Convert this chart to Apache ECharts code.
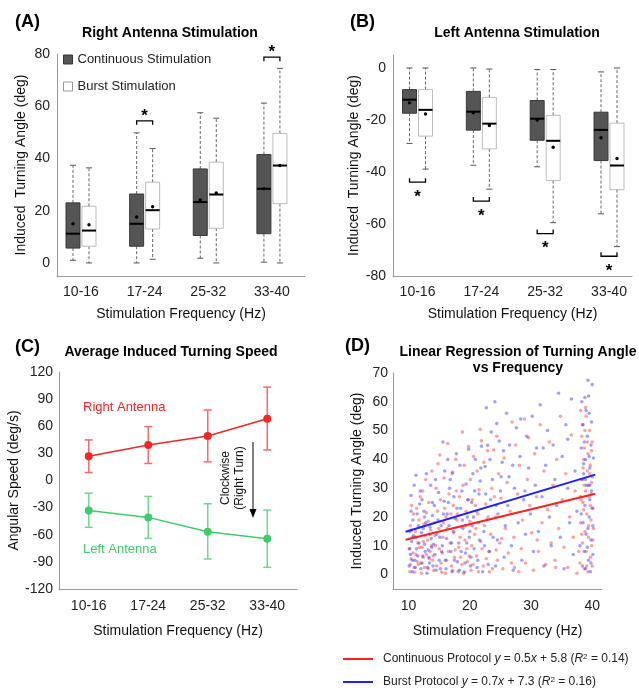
<!DOCTYPE html>
<html>
<head>
<meta charset="utf-8">
<script src="https://cdn.jsdelivr.net/npm/echarts@6/dist/echarts.min.js"></script>
<style>
html, body { margin: 0; padding: 0; background: #fff; }
#chart { width: 639px; height: 697px; }
</style>
</head>
<body>
<div id="chart"></div>
<script>
var FREQ = ['10-16', '17-24', '25-32', '33-40'];

// box stats per frequency group: [min, q1, median, q3, max, mean]
var rightCont  = [[1, 5.7, 11.2, 23, 37.4, 15], [0, 6.4, 15, 26.4, 49.8, 17.6], [1.8, 10.5, 23.3, 36, 57.5, 24.1], [0.3, 11.2, 28.4, 41.5, 61.2, 28.4]];
var rightBurst = [[0, 6.4, 12.4, 21.7, 36.4, 14.6], [1.4, 13, 20.2, 30.9, 43.8, 21.5], [0, 13.3, 26.2, 38.6, 55.4, 26.8], [0, 22.7, 37.3, 49.6, 74.5, 37.3]];
var leftCont   = [[-29, -17.4, -12.2, -8.3, 0, -13.4], [-37.4, -23.9, -16.8, -9, 0, -17.2], [-38, -27.8, -19.5, -12.5, -0.6, -20], [-56.1, -35.6, -23.8, -17, -1.5, -26.8]];
var leftBurst  = [[-38.9, -26.2, -16.1, -8.3, 0, -17.7], [-46.6, -31.1, -21.4, -11.3, -0.4, -22.1], [-59.5, -43.3, -28, -18.2, -0.6, -30.5], [-68.7, -46.8, -37.5, -21.2, 0, -34.8]];
// significance brackets: [group, level]
var rightSig = [[2, 54.4], [4, 78.8]];
var leftSig  = [[1, -43.9], [2, -51.2], [3, -63.7], [4, -72.4]];

// panel C: mean angular speed and error range
var speedRight    = [26.8, 39.3, 49.3, 68.4];
var speedRightErr = [[8.8, 44.9], [18.8, 59.6], [20.6, 78], [33.8, 103.3]];
var speedLeft     = [-33.1, -40.8, -56.6, -64.3];
var speedLeftErr  = [[-51.8, -14], [-64, -17.6], [-86.8, -25.7], [-96, -32.7]];

// panel D: individual trials
var scatterCont = [
  [10.2,1],[10.4,5.5],[10.1,9],[10.6,13],[10.3,17],[10.8,21],[10.5,24],[10.9,2.5],[11.2,7],[11.5,11],[11.1,15],[11.7,19],[11.3,23],[11.9,27],[11.6,3.5],
  [12.1,0.5],[12.4,6],[12.2,9.5],[12.7,13.5],[12.5,17.5],[12.9,21.5],[12.3,29],[12.8,33],[13.2,2],[13.5,8],[13.1,12],[13.6,15.5],[13.3,25],[13.8,36],[13.9,5],
  [14.1,1.5],[14.4,10],[14.2,18],[14.7,22],[14.5,30],[14.8,38.5],[15.1,41.5],[15.3,4],[15.6,13],[15.2,26],[15.8,33.5],[15.5,7.5],[16.0,0.5],[16.3,16],[16.1,20],
  [16.6,28],[16.4,45.5],[16.8,11],[17.0,3],[17.3,24],[17.1,35],[17.6,8.5],[17.4,14.5],[17.9,19],[17.7,40],
  [18.1,1],[18.3,27],[18.5,6],[18.8,49.5],[18.6,16.5],[18.9,31],[19.2,12],[19.4,22],[19.1,38],[19.6,4.5],[19.8,44.5],[19.5,9],[20.0,18.5],[20.2,1.5],[20.4,26],
  [20.1,33],[20.6,41],[20.8,14],[21.1,6.5],[21.3,21],[21.7,50.5],[21.5,29.5],[21.9,46.5],[21.2,36],[21.8,11.5],
  [22.2,3],[22.4,17],[22.6,24.5],[22.9,43],[22.3,39],[23.1,8],[23.4,14],[23.6,30],[23.9,43.3],[23.2,1],[24.2,20],[24.5,5],[24.7,35],[24.4,48],[24.9,11],
  [25.1,26.5],[25.4,2],[25.6,40.5],[25.8,16],
  [26.1,32],[26.3,7.5],[26.6,22],[26.9,53],[27.2,13],[27.5,45],[27.3,2.5],[27.8,28],[28.1,38],[28.4,9],[28.6,19],[28.9,54],[29.1,4],[29.4,33],[29.6,47.5],
  [29.8,24],[30.1,14.5],[30.4,1.5],
  [30.6,42],[30.9,27],[31.2,8],[31.5,52],[31.8,18],[32.1,36],[32.4,3.5],[32.7,22.5],[33.0,46],[33.3,11],[33.6,31],[33.9,5],[34.2,40],[34.5,16],[34.8,55],
  [35.1,26],[35.4,9.5],[35.7,35],[36.0,2.5],[36.3,20],[36.6,48.5],[36.9,13],[37.2,29],[37.5,0.5],
  [38.0,4],[38.1,18],[38.2,33],[38.3,48],[38.1,57],[38.4,11],[38.5,25],[38.6,40],[38.4,52],[38.7,2],[38.8,15],[38.9,29],[38.7,44],[39.0,8],[39.1,21],
  [39.2,36],[39.0,55],[39.3,1],[39.4,13],[39.5,27],[39.3,42],[39.6,50],[39.7,6],[39.8,19],[39.9,32],[39.7,38],[40.0,3],[40.1,23],[40.0,46],[39.9,10],
  [38.6,22.5],[39.4,31],[38.9,58],[39.8,28],[40.2,16],
  [10.3,3.5],[10.7,7.5],[10.5,15.5],[11.0,0.8],[11.4,4.5],[11.8,9.5],[11.3,13],[12.0,4],[12.6,2.5],[12.4,11.5],[12.9,7],[13.4,5.5],[13.7,10],[13.2,18.5],
  [14.0,6.5],[14.3,13.5],[14.6,3],[14.9,16],[15.4,0.8],[15.0,9],[15.7,18],[15.9,23],[16.2,5],[16.5,8],[16.9,21],[17.2,1.5],[17.5,6],[17.8,29],[18.2,9.5],
  [18.4,13],[18.7,3.5],[18.0,21],[19.0,0.5],[19.3,17],[19.7,26],[19.9,6.5],[20.3,10],[20.5,3.5],[20.9,24],[21.4,1],[21.0,16],[22.0,9],[22.7,5.5],[23.0,20],
  [23.7,2],[24.0,27],[24.3,8.5],[25.2,12.5],[26.8,4],[28.0,1],[31.0,12],[34.0,2.5],[37.8,8],[38.2,26],[38.5,37],[38.8,50],[39.1,3],[39.4,17],[39.6,35],
  [39.9,43],[40.1,12],[38.3,14],[39.2,46],[38.7,31],[39.7,24]
];
var scatterBurst = [
  [10.1,3],[10.3,7],[10.5,11.5],[10.2,15],[10.7,19],[10.4,27.5],[10.9,31],[10.6,1],[11.0,5],[11.3,9],[11.1,13],[11.6,17],[11.4,21],[11.8,24.5],[11.2,34.5],
  [12.0,2],[12.3,6.5],[12.6,10.5],[12.1,14.5],[12.8,18],[12.5,22],[12.2,26],[12.9,35],[13.0,0.5],[13.4,4],[13.2,8.5],[13.7,12.5],[13.5,16.5],[13.9,20.5],[13.6,31],
  [14.0,3],[14.3,7],[14.6,14],[14.2,24],[14.9,28.5],[14.4,33],[15.2,2],[15.5,10],[15.3,17],[15.7,21],[15.9,36],[15.6,46],[16.0,5],[16.2,12.5],[16.5,25],
  [16.7,30],[16.4,40],[16.9,8],[17.1,1],[17.3,15],[17.6,19.5],[17.4,27],[17.8,42],[17.2,35.5],
  [18.0,4.5],[18.2,11],[18.5,23],[18.7,29],[18.4,38],[18.9,16],[19.1,1],[19.3,7.5],[19.6,20],[19.4,31.5],[19.8,43.5],[19.9,13],[20.1,3],[20.3,25],[20.5,35],
  [20.7,9],[20.9,40],[20.4,17],[21.1,22],[21.3,5],[21.5,28],[21.7,32.5],[21.9,44.6],[21.6,12],
  [22.1,1],[22.3,15],[22.7,57.9],[22.5,37.5],[22.8,19],[22.9,44.9],[23.2,8],[23.5,49.5],[23.4,26],[23.7,33],[24.1,60],[24.4,52.5],[24.2,3],[24.6,21],[24.8,46.4],
  [24.5,12],[25.0,29],[25.3,39],[25.6,6],[25.8,17],
  [26.0,56],[26.2,24],[26.5,45],[26.8,10],[26.4,34],[27.1,1.5],[27.3,30],[27.6,51],[27.9,18],[28.2,41],[28.5,5],[28.3,54],[28.8,26],[29.1,14],[29.3,48],
  [29.6,37],[29.9,21],[30.2,55],[30.4,8],
  [30.7,31],[30.9,44],[31.2,15],[31.5,59],[31.8,27],[32.1,3],[32.4,38],[32.7,50],[33.0,20],[33.3,10],[33.6,45],[33.9,33],[34.2,24],[34.5,63],[34.8,13],
  [35.1,41],[35.4,2],[35.7,52],[36.0,30],[36.3,18],[36.6,61],[36.9,7],[37.2,36],[37.5,22],
  [38.0,10],[38.1,27],[38.2,44],[38.3,60],[38.4,3],[38.5,18],[38.6,35],[38.5,52],[38.7,8],[38.8,24],[38.9,40],[38.8,61.5],[39.0,14],[39.1,31],[39.2,48],
  [39.3,67.5],[39.4,5],[39.5,20],[39.6,37],[39.5,56],[39.7,1],[39.8,12],[39.9,29],[39.8,45],[40.0,66],[40.1,7],[40.0,34],[39.9,53],[39.6,26],[38.6,38.5],
  [39.2,9.5],[40.2,40.5],[38.9,33],[39.4,62],[40.1,17],
  [10.2,9],[10.6,5],[10.8,13.5],[10.4,22],[11.1,2.5],[11.5,6.5],[11.7,11],[11.9,29],[12.2,4],[12.7,8],[12.4,16],[12.6,20],[13.1,2.5],[13.3,6],[13.8,9.5],
  [13.4,14],[13.9,25],[14.1,10.5],[14.5,1.5],[14.8,19],[15.0,5],[15.4,8],[15.1,13],[15.8,25.5],[16.1,2],[16.6,17],[16.3,21],[16.8,33],[17.0,11],[17.5,5],
  [17.9,23],[18.3,1.5],[18.6,8],[18.8,19],[19.2,4],[19.5,11],[19.7,26],[20.0,15],[20.2,6],[20.6,20],[20.8,29],[21.2,2.5],[21.4,18],[21.8,37],[22.4,10],
  [22.6,28],[23.0,3.5],[23.3,40],[23.8,13],[24.3,24],[25.1,34],[25.5,43],[27.0,38],[29.0,29],[32.0,44],[36.0,47],[38.2,21],[38.4,33],[38.7,46],[39.0,57],
  [39.3,16],[39.5,41],[39.8,4],[40.0,23],[38.9,2],[39.6,31]
];
// fitted lines, endpoints
var fitCont  = [[9.5, 12.1], [40.5, 28.1]];
var fitBurst = [[9.5, 14.9], [40.5, 34.7]];
var PROTOCOLS = ['Continuous Protocol', 'Burst Protocol'];
var SLOPE = ['0.5', '0.7'];
var INTERCEPT = ['5.8', '7.3'];
var R2 = ['0.14', '0.16'];

var FONT = 'Liberation Sans, Arial, sans-serif';
var RED = '#f52525', GREEN = '#3fcb6c';

var chart = echarts.init(document.getElementById('chart'));

function withGroup(rows) {
  return rows.map(function (r, i) { return [i + 1].concat(r); });
}

// box + dashed whiskers + median + mean dot
function boxRender(side, fill, stroke) {
  return function (params, api) {
    var g = api.value(0);
    var x = api.coord([g, 0])[0] + side * 8;
    var y = function (i) { return api.coord([g, api.value(i)])[1]; };
    var hw = 7;
    var dash = { stroke: '#666', lineWidth: 1, lineDash: [3, 2] };
    var cap = { stroke: '#555', lineWidth: 1 };
    return {
      type: 'group',
      children: [
        { type: 'line', shape: { x1: x, y1: y(4), x2: x, y2: y(5) }, style: dash },
        { type: 'line', shape: { x1: x, y1: y(2), x2: x, y2: y(1) }, style: dash },
        { type: 'line', shape: { x1: x - 3, y1: y(5), x2: x + 3, y2: y(5) }, style: cap },
        { type: 'line', shape: { x1: x - 3, y1: y(1), x2: x + 3, y2: y(1) }, style: cap },
        { type: 'rect', shape: { x: x - hw, y: y(4), width: hw * 2, height: y(2) - y(4) }, style: { fill: fill, stroke: stroke, lineWidth: 1 } },
        { type: 'line', shape: { x1: x - hw, y1: y(3), x2: x + hw, y2: y(3) }, style: { stroke: '#000', lineWidth: 2 } },
        { type: 'circle', shape: { cx: x, cy: y(6), r: 1.7 }, style: { fill: '#000' } }
      ]
    };
  };
}

// bracket with star; dir 1 = star above, -1 = star below
function sigRender(dir) {
  return function (params, api) {
    var p = api.coord([api.value(0), api.value(1)]);
    var l = p[0] - 8, r = p[0] + 8, yy = p[1], t = 4 * dir;
    return {
      type: 'group',
      children: [
        { type: 'polyline', shape: { points: [[l, yy + t], [l, yy], [r, yy], [r, yy + t]] }, style: { stroke: '#000', lineWidth: 1.3, fill: null } },
        { type: 'text', style: { text: '*', x: p[0], y: dir > 0 ? yy - 5 : yy + 15, align: 'center', verticalAlign: 'middle', font: 'bold 17px ' + FONT, fill: '#000' } }
      ]
    };
  };
}

function errRender(params, api) {
  var g = api.value(0);
  var lo = api.coord([g, api.value(1)]);
  var hi = api.coord([g, api.value(2)]);
  var st = { stroke: api.visual('color'), lineWidth: 1.5 };
  return {
    type: 'group',
    children: [
      { type: 'line', shape: { x1: lo[0], y1: lo[1], x2: hi[0], y2: hi[1] }, style: st },
      { type: 'line', shape: { x1: lo[0] - 4, y1: lo[1], x2: lo[0] + 4, y2: lo[1] }, style: st },
      { type: 'line', shape: { x1: hi[0] - 4, y1: hi[1], x2: hi[0] + 4, y2: hi[1] }, style: st }
    ]
  };
}

var axisLine = { onZero: false, lineStyle: { color: '#999', width: 1 } };
var axisLabel = { color: '#222', fontSize: 14, fontFamily: FONT };
var nameStyle = { color: '#111', fontSize: 14, fontFamily: FONT };

function boxXAxis(grid, min, max) {
  return {
    type: 'value', gridIndex: grid, min: min, max: max,
    axisLine: axisLine, axisTick: { show: false }, splitLine: { show: false },
    axisLabel: Object.assign({ margin: 9, customValues: [1, 2, 3, 4], formatter: function (v) { return FREQ[Math.round(v) - 1]; } }, axisLabel),
    name: 'Stimulation Frequency (Hz)', nameLocation: 'middle', nameGap: 31, nameTextStyle: nameStyle
  };
}

function panelTitle(text, cx, top) {
  return { text: text, left: cx, top: top, textAlign: 'center', textStyle: { fontSize: 14, fontWeight: 'bold', color: '#000', fontFamily: FONT, lineHeight: 16 } };
}

function panelTag(text, left, top) {
  return { text: text, left: left, top: top, textStyle: { fontSize: 18, fontWeight: 'bold', color: '#000', fontFamily: FONT } };
}

chart.setOption({
  animation: false,
  backgroundColor: '#fff',
  title: [
    panelTag('(A)', 10, 8),
    panelTag('(B)', 345, 8),
    panelTag('(C)', 10, 333),
    panelTag('(D)', 340, 332),
    panelTitle('Right Antenna Stimulation', 165, 20),
    panelTitle('Left Antenna Stimulation', 512, 20),
    panelTitle('Average Induced Turning Speed', 166, 339),
    panelTitle('Linear Regression of Turning Angle\nvs Frequency', 513, 339)
  ],
  legend: [
    {
      left: 63, top: 53, padding: 0, orient: 'vertical', itemWidth: 9, itemHeight: 9, itemGap: 14,
      textStyle: { fontSize: 13, color: '#222', fontFamily: FONT },
      data: [
        { name: 'Continuous Stimulation', icon: 'rect', itemStyle: { color: '#555', borderColor: '#333', borderWidth: 1 } },
        { name: 'Burst Stimulation', icon: 'rect', itemStyle: { color: '#fff', borderColor: '#999', borderWidth: 1 } }
      ],
      selectedMode: false
    },
    {
      left: 343, top: 653, padding: 0, orient: 'vertical', itemWidth: 30, itemHeight: 2, itemGap: 11,
      textStyle: { fontSize: 12, color: '#222', fontFamily: FONT, padding: [0, 0, 0, 5], rich: { i: { fontStyle: 'italic' }, s: { fontSize: 8, verticalAlign: 'top' } } },
      formatter: function (name) {
        var i = PROTOCOLS.indexOf(name);
        return name + ' {i|y} = ' + SLOPE[i] + '{i|x} + ' + INTERCEPT[i] + ' ({i|R}{s|2} = ' + R2[i] + ')';
      },
      data: [
        { name: PROTOCOLS[0], icon: 'rect', itemStyle: { color: '#ff2020' } },
        { name: PROTOCOLS[1], icon: 'rect', itemStyle: { color: '#2020ff' } }
      ],
      selectedMode: false
    }
  ],
  grid: [
    { left: 57, top: 54, width: 248, height: 222 },
    { left: 393, top: 55, width: 239, height: 221 },
    { left: 59, top: 372, width: 238, height: 217 },
    { left: 393, top: 373, width: 209, height: 216 }
  ],
  xAxis: [
    boxXAxis(0, 0.623, 4.52),
    boxXAxis(1, 0.616, 4.36),
    {
      type: 'category', gridIndex: 2, data: FREQ,
      axisLine: axisLine, axisTick: { alignWithLabel: true, length: 4, lineStyle: { color: '#999' } }, splitLine: { show: false },
      axisLabel: Object.assign({ margin: 10 }, axisLabel),
      name: 'Stimulation Frequency (Hz)', nameLocation: 'middle', nameGap: 35, nameTextStyle: nameStyle
    },
    {
      type: 'value', gridIndex: 3, min: 7.45, max: 41.6,
      axisLine: axisLine, axisTick: { show: false }, splitLine: { show: false },
      axisLabel: Object.assign({ margin: 10, customValues: [10, 20, 30, 40] }, axisLabel),
      name: 'Stimulation Frequency (Hz)', nameLocation: 'middle', nameGap: 35, nameTextStyle: nameStyle
    }
  ],
  yAxis: [
    {
      type: 'value', gridIndex: 0, min: -5, max: 80,
      axisLine: Object.assign({ show: true }, axisLine), axisTick: { show: false }, splitLine: { show: false },
      axisLabel: Object.assign({ margin: 7, customValues: [0, 20, 40, 60, 80] }, axisLabel),
      name: 'Induced  Turning Angle (deg)', nameLocation: 'middle', nameGap: 29, nameTextStyle: nameStyle
    },
    {
      type: 'value', gridIndex: 1, min: -80, max: 5,
      axisLine: Object.assign({ show: true }, axisLine), axisTick: { show: false }, splitLine: { show: false },
      axisLabel: Object.assign({ margin: 7, customValues: [0, -20, -40, -60, -80] }, axisLabel),
      name: 'Induced  Turning Angle (deg)', nameLocation: 'middle', nameGap: 32, nameTextStyle: nameStyle
    },
    {
      type: 'value', gridIndex: 2, min: -120, max: 120, interval: 30,
      axisLine: Object.assign({ show: true }, axisLine), axisTick: { show: false }, splitLine: { show: false },
      axisLabel: Object.assign({ margin: 6 }, axisLabel),
      name: 'Angular Speed (deg/s)', nameLocation: 'middle', nameGap: 34, nameTextStyle: nameStyle
    },
    {
      type: 'value', gridIndex: 3, min: -5, max: 70,
      axisLine: Object.assign({ show: true }, axisLine), axisTick: { show: false }, splitLine: { show: false },
      axisLabel: Object.assign({ margin: 5, customValues: [0, 10, 20, 30, 40, 50, 60, 70] }, axisLabel),
      name: 'Induced Turning Angle (deg)', nameLocation: 'middle', nameGap: 29, nameTextStyle: nameStyle
    }
  ],
  graphic: [
    { type: 'text', left: 83, top: 401, style: { text: 'Right Antenna', fill: RED, font: '13px ' + FONT } },
    { type: 'text', left: 83, top: 543, style: { text: 'Left Antenna', fill: GREEN, font: '13px ' + FONT } },
    { type: 'text', x: 233, y: 478, rotation: Math.PI / 2, style: { text: 'Clockwise\n(Right Turn)', fill: '#111', font: '12px ' + FONT, align: 'center', verticalAlign: 'middle', lineHeight: 14 } },
    { type: 'line', shape: { x1: 253, y1: 442, x2: 253, y2: 512 }, style: { stroke: '#000', lineWidth: 1 } },
    { type: 'polygon', shape: { points: [[249.5, 509], [256.5, 509], [253, 518]] }, style: { fill: '#000' } }
  ],
  series: [
    { name: 'Continuous Stimulation', type: 'custom', xAxisIndex: 0, yAxisIndex: 0, renderItem: boxRender(-1, '#555', '#3a3a3a'), encode: { x: 0, y: [1, 2, 3, 4, 5] }, itemStyle: { color: '#555' }, data: withGroup(rightCont), silent: true },
    { name: 'Burst Stimulation', type: 'custom', xAxisIndex: 0, yAxisIndex: 0, renderItem: boxRender(1, '#fff', '#bbb'), encode: { x: 0, y: [1, 2, 3, 4, 5] }, itemStyle: { color: '#fff' }, data: withGroup(rightBurst), silent: true },
    { type: 'custom', xAxisIndex: 0, yAxisIndex: 0, renderItem: sigRender(1), encode: { x: 0, y: 1 }, data: rightSig, silent: true },
    { name: 'Continuous Stimulation', type: 'custom', xAxisIndex: 1, yAxisIndex: 1, renderItem: boxRender(-1, '#555', '#3a3a3a'), encode: { x: 0, y: [1, 2, 3, 4, 5] }, itemStyle: { color: '#555' }, data: withGroup(leftCont), silent: true },
    { name: 'Burst Stimulation', type: 'custom', xAxisIndex: 1, yAxisIndex: 1, renderItem: boxRender(1, '#fff', '#bbb'), encode: { x: 0, y: [1, 2, 3, 4, 5] }, itemStyle: { color: '#fff' }, data: withGroup(leftBurst), silent: true },
    { type: 'custom', xAxisIndex: 1, yAxisIndex: 1, renderItem: sigRender(-1), encode: { x: 0, y: 1 }, data: leftSig, silent: true },
    { type: 'custom', xAxisIndex: 2, yAxisIndex: 2, renderItem: errRender, itemStyle: { color: '#f76a6a' }, encode: { x: 0, y: [1, 2] }, data: speedRightErr.map(function (e, i) { return [i, e[0], e[1]]; }), silent: true },
    { type: 'custom', xAxisIndex: 2, yAxisIndex: 2, renderItem: errRender, itemStyle: { color: '#6fd893' }, encode: { x: 0, y: [1, 2] }, data: speedLeftErr.map(function (e, i) { return [i, e[0], e[1]]; }), silent: true },
    { type: 'line', xAxisIndex: 2, yAxisIndex: 2, data: speedRight, symbol: 'circle', symbolSize: 8, itemStyle: { color: RED }, lineStyle: { color: RED, width: 1.5 }, silent: true },
    { type: 'line', xAxisIndex: 2, yAxisIndex: 2, data: speedLeft, symbol: 'circle', symbolSize: 8, itemStyle: { color: GREEN }, lineStyle: { color: GREEN, width: 1.5 }, silent: true },
    { type: 'scatter', xAxisIndex: 3, yAxisIndex: 3, data: scatterCont, symbolSize: 3.5, itemStyle: { color: 'rgba(250,40,40,0.55)' }, silent: true },
    { type: 'scatter', xAxisIndex: 3, yAxisIndex: 3, data: scatterBurst, symbolSize: 3.5, itemStyle: { color: 'rgba(40,40,250,0.55)' }, silent: true },
    { name: PROTOCOLS[0], type: 'line', xAxisIndex: 3, yAxisIndex: 3, data: fitCont, showSymbol: false, lineStyle: { color: '#ff2020', width: 2 }, itemStyle: { color: '#ff2020' }, silent: true },
    { name: PROTOCOLS[1], type: 'line', xAxisIndex: 3, yAxisIndex: 3, data: fitBurst, showSymbol: false, lineStyle: { color: '#2020ff', width: 2 }, itemStyle: { color: '#2020ff' }, silent: true }
  ]
});
</script>
</body>
</html>
